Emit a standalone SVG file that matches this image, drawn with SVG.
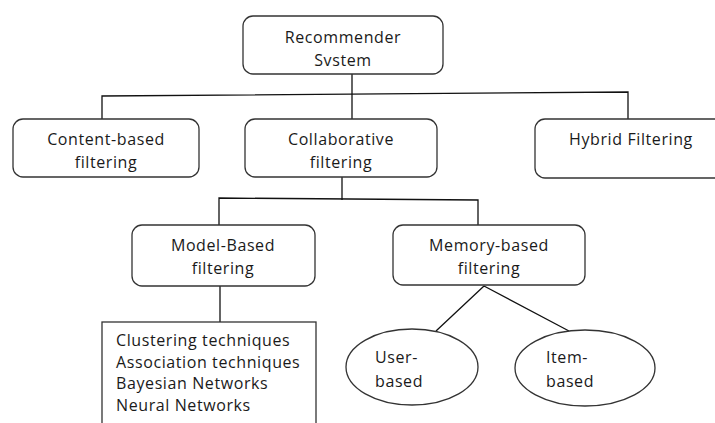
<svg xmlns="http://www.w3.org/2000/svg" width="715" height="423" viewBox="0 0 715 423">
<style>
.box{fill:#fff;stroke:#333;stroke-width:1.3}
.ln{fill:none;stroke:#111;stroke-width:1.3}
text{font-family:"Open Sans","Liberation Sans",sans-serif;font-size:16px;letter-spacing:0.6px;fill:#1a1a1a}
.c{text-anchor:middle}
</style>
<rect width="715" height="423" fill="#fff"/>
<g id="connectors">
<path class="ln" d="M352 74 V119"/>
<path class="ln" d="M102 119 V96 L628 92 V119"/>
<path class="ln" d="M342 172 V200"/>
<path class="ln" d="M219 225 V198 L478 200 V225"/>
<path class="ln" d="M220 266 V322"/>
<path class="ln" d="M484 286 L436 331 M484 286 L569 331"/>
</g>
<g id="recommender">
<rect class="box" x="243" y="16" width="200" height="58" rx="10"/>
<text class="c" x="343" y="43">Recommender</text>
<text class="c" x="343" y="66">Svstem</text>
</g>
<g id="content">
<rect class="box" x="13" y="119" width="186" height="58" rx="10"/>
<text class="c" x="106" y="145">Content-based</text>
<text class="c" x="106" y="168">filtering</text>
</g>
<g id="collaborative">
<rect class="box" x="245" y="119" width="192" height="58" rx="10"/>
<text class="c" x="341" y="145">Collaborative</text>
<text class="c" x="341" y="168">filtering</text>
</g>
<g id="hybrid">
<rect class="box" x="535" y="119" width="200" height="59" rx="10"/>
<text class="c" x="631" y="145">Hybrid Filtering</text>
</g>
<g id="model">
<rect class="box" x="132" y="225" width="183" height="61" rx="10"/>
<text class="c" x="223" y="251">Model-Based</text>
<text class="c" x="223" y="274">filtering</text>
</g>
<g id="memory">
<rect class="box" x="393" y="225" width="192" height="60" rx="10"/>
<text class="c" x="489" y="251">Memory-based</text>
<text class="c" x="489" y="274">filtering</text>
</g>
<g id="techniques">
<rect class="box" x="102" y="322" width="214" height="110"/>
<text x="116" y="346">Clustering techniques</text>
<text x="116" y="368">Association techniques</text>
<text x="116" y="389">Bayesian Networks</text>
<text x="116" y="411">Neural Networks</text>
</g>
<g id="user">
<ellipse class="box" cx="412" cy="367" rx="66" ry="38"/>
<text x="375" y="363">User-</text>
<text x="375" y="387">based</text>
</g>
<g id="item">
<ellipse class="box" cx="585" cy="368" rx="70" ry="38"/>
<text x="546" y="363">Item-</text>
<text x="546" y="387">based</text>
</g>
</svg>
